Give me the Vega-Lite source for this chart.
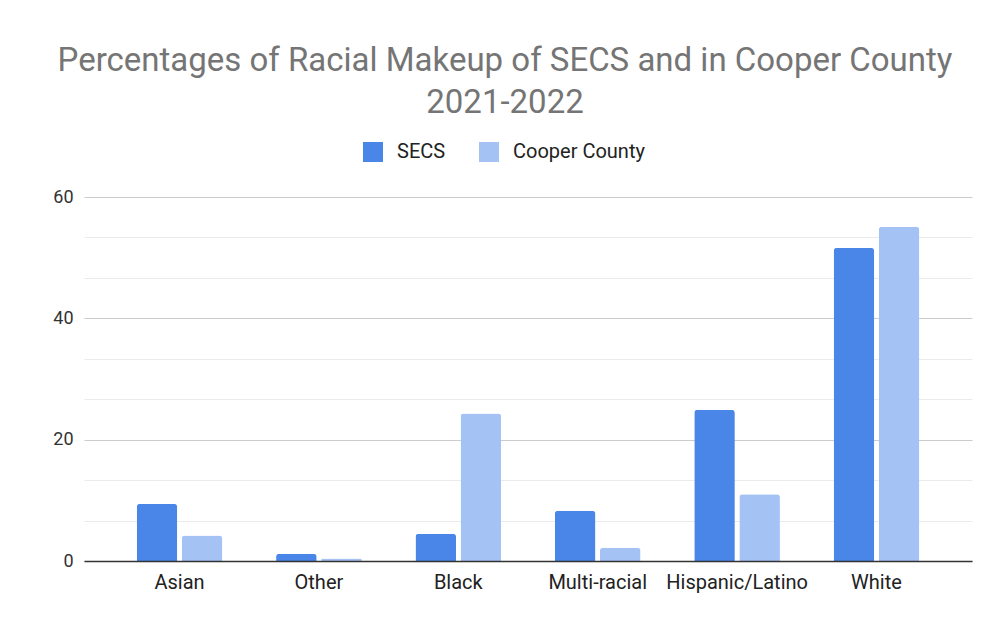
{
  "$schema": "https://vega.github.io/schema/vega-lite/v6.json",
  "width": 888,
  "height": 364,
  "autosize": "none",
  "padding": {"left": 84, "top": 197, "right": 18, "bottom": 57},
  "background": "white",
  "config": {
    "view": {"stroke": null},
    "font": "Roboto"
  },
  "title": {
    "text": ["Percentages of Racial Makeup of SECS and in Cooper County", "2021-2022"],
    "fontSize": 33,
    "fontWeight": "normal",
    "color": "#757575",
    "anchor": "middle",
    "dx": -23,
    "lineHeight": 42,
    "offset": 22
  },
  "data": {
    "values": [
      {"race": "Asian", "group": "SECS", "pct": 9.4},
      {"race": "Asian", "group": "Cooper County", "pct": 4.2},
      {"race": "Other", "group": "SECS", "pct": 1.2},
      {"race": "Other", "group": "Cooper County", "pct": 0.4},
      {"race": "Black", "group": "SECS", "pct": 4.5},
      {"race": "Black", "group": "Cooper County", "pct": 24.3},
      {"race": "Multi-racial", "group": "SECS", "pct": 8.3},
      {"race": "Multi-racial", "group": "Cooper County", "pct": 2.2},
      {"race": "Hispanic/Latino", "group": "SECS", "pct": 24.9},
      {"race": "Hispanic/Latino", "group": "Cooper County", "pct": 11.0},
      {"race": "White", "group": "SECS", "pct": 51.6},
      {"race": "White", "group": "Cooper County", "pct": 55.1}
    ]
  },
  "mark": {"type": "bar", "cornerRadiusTopLeft": 3, "cornerRadiusTopRight": 3},
  "encoding": {
    "x": {
      "field": "race",
      "type": "nominal",
      "sort": ["Asian", "Other", "Black", "Multi-racial", "Hispanic/Latino", "White"],
      "scale": {"paddingInner": 0.3855, "paddingOuter": 0.378},
      "axis": {
        "title": null,
        "labelAngle": 0,
        "ticks": false,
        "domainColor": "#333333",
        "domainWidth": 1.5,
        "labelFontSize": 20,
        "labelColor": "#222222",
        "labelPadding": 11,
        "zindex": 1
      }
    },
    "xOffset": {
      "field": "group",
      "type": "nominal",
      "sort": ["SECS", "Cooper County"],
      "scale": {"paddingInner": 0.1}
    },
    "y": {
      "field": "pct",
      "type": "quantitative",
      "scale": {"domain": [0, 60], "nice": false},
      "axis": {
        "title": null,
        "domain": false,
        "ticks": false,
        "values": [0, 6.6667, 13.3333, 20, 26.6667, 33.3333, 40, 46.6667, 53.3333, 60],
        "labelExpr": "abs(datum.value - round(datum.value / 20) * 20) < 0.01 ? format(datum.value, 'd') : ''",
        "labelFontSize": 18,
        "labelColor": "#333333",
        "labelPadding": 11,
        "gridColor": {
          "condition": {"test": "abs(datum.value - round(datum.value / 20) * 20) < 0.01", "value": "#cccccc"},
          "value": "#ebebeb"
        },
        "gridWidth": 1.2
      }
    },
    "color": {
      "field": "group",
      "type": "nominal",
      "sort": ["SECS", "Cooper County"],
      "scale": {"domain": ["SECS", "Cooper County"], "range": ["#4a86e8", "#a4c2f4"]},
      "legend": {
        "title": null,
        "orient": "none",
        "direction": "horizontal",
        "legendX": 279,
        "legendY": -55,
        "symbolType": "square",
        "symbolSize": 400,
        "symbolStrokeWidth": 0,
        "symbolOpacity": 1,
        "labelFontSize": 20,
        "labelColor": "#222222",
        "labelOffset": 14,
        "columnPadding": 33
      }
    }
  }
}
